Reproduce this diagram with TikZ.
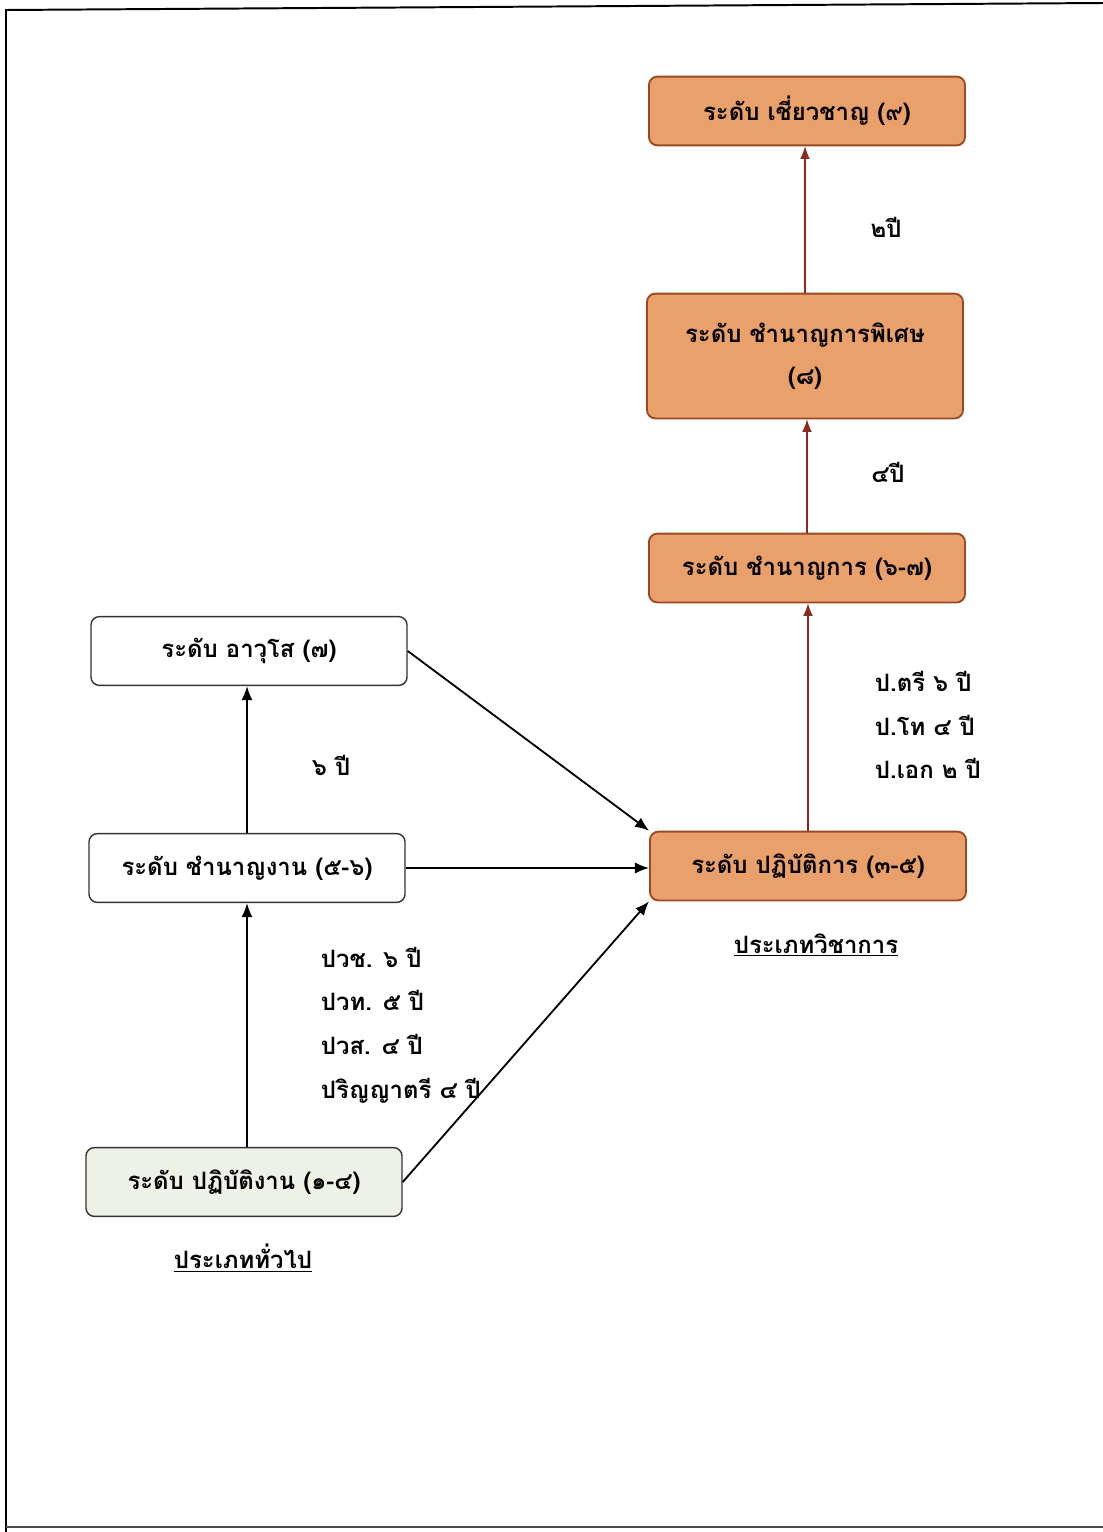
\documentclass[tikz,border=0pt]{standalone}
\usepackage{fontspec}
\newfontfamily\thaifont[Script=Thai]{Loma}
\usetikzlibrary{arrows.meta}
\definecolor{boxorange}{HTML}{E9A06A}
\definecolor{boxedge}{HTML}{9A4A22}
\definecolor{boxgreen}{HTML}{EEF2E6}
\definecolor{upred}{HTML}{8B2A1E}
\tikzset{
  level/.style={draw, rounded corners=6pt, line width=1pt, minimum width=7.9cm, minimum height=1.72cm, align=center, font=\thaifont\bfseries\fontsize{17}{30}\selectfont},
  acad/.style={level, fill=boxorange, draw=boxedge, line width=1.3pt},
  gen/.style={level, fill=white, draw=black!80},
  yrs/.style={align=left, font=\thaifont\bfseries\fontsize{17}{31}\selectfont},
  uparrow/.style={-{Latex[length=9pt,width=7pt]}, upred, line width=0.8pt},
  genarrow/.style={-{Latex[length=10pt,width=8pt]}, black, line width=1.3pt}
}
\begin{document}
\begin{tikzpicture}[x=0.025cm, y=-0.025cm]
            \useasboundingbox (0,0) rectangle (1103,1532);
            \fill[white] (0,0) rectangle (1103,1532);
            \draw[line width=1.4pt] (6,1532)--(6,10)--(1103,3);
            \draw[line width=0.8pt, black!70] (6,1527)--(1103,1527);
            \node[acad] (expert) at (807,111) {ระดับ เชี่ยวชาญ (๙)};
            \node[acad, minimum height=3.12cm] (special) at (805,356) {ระดับ ชำนาญการพิเศษ\\(๘)};
            \node[acad] (profic) at (807,568) {ระดับ ชำนาญการ (๖-๗)};
            \node[acad] (practi) at (808,866) {ระดับ ปฏิบัติการ (๓-๕)};
            \node[gen] (senior) at (249,651) {ระดับ อาวุโส (๗)};
            \node[gen] (skilled) at (247,868) {ระดับ ชำนาญงาน (๕-๖)};
            \node[gen, fill=boxgreen] (operat) at (244,1182) {ระดับ ปฏิบัติงาน (๑-๔)};
            \draw[uparrow] (special.north)--(special.north|-expert.south);
            \draw[uparrow] (profic.north)--(profic.north|-special.south);
            \draw[uparrow] (practi.north)--(practi.north|-profic.south);
            \draw[genarrow] (skilled.north)--(skilled.north|-senior.south);
            \draw[genarrow] (skilled.north|-operat.north)--(skilled.south);
            \draw[genarrow] (senior.east)--(practi.north west);
            \draw[genarrow] (skilled.east)--(practi.west|-skilled.east);
            \draw[genarrow] (operat.east)--(practi.south west);
            \node[yrs] (y2) at (886,227) {๒ปี};
            \node[yrs] (y4) at (888,472) {๔ปี};
            \node[yrs, anchor=west] (ydeg) at (870,725) {ป.ตรี ๖ ปี\\ป.โท ๔ ปี\\ป.เอก ๒ ปี};
            \node[yrs] (y6) at (331,765) {๖ ปี};
            \node[yrs, anchor=west] (yvoc) at (316,1025) {ปวช. ๖ ปี\\ปวท. ๕ ปี\\ปวส. ๔ ปี\\ปริญญาตรี ๔ ปี};
            \node[yrs] (acadtype) at (816,945) {\underline{ประเภทวิชาการ}};
            \node[yrs] (gentype) at (243,1258) {\underline{ประเภททั่วไป}};
        \end{tikzpicture}
\end{document}
